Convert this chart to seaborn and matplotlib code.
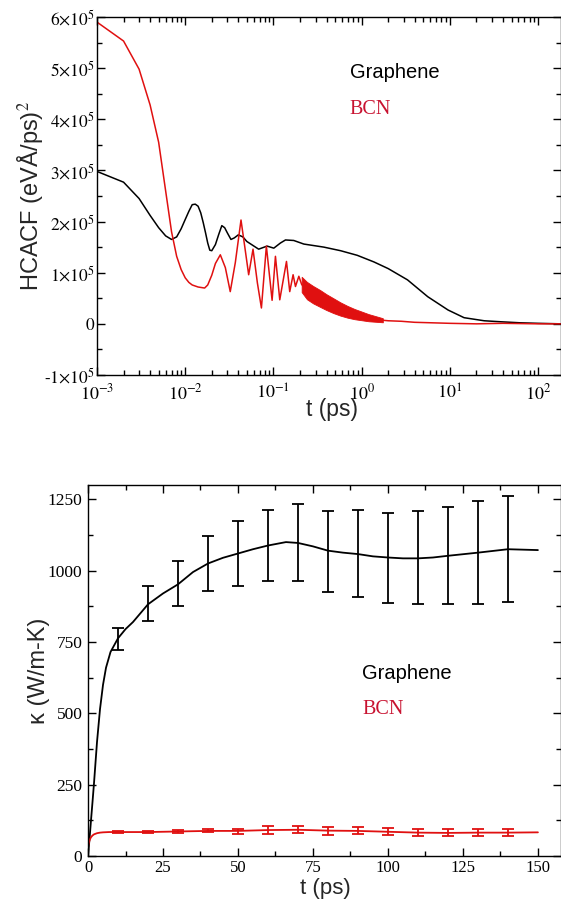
import numpy as np
import pandas as pd
import matplotlib
matplotlib.use("Agg")
import matplotlib.pyplot as plt
from matplotlib.ticker import LogLocator, MultipleLocator, NullFormatter
import seaborn as sns

# ---------------- data (top: HCACF, values in units of 1e5 (eVÅ/ps)^2) ----------------
gr_t_hc = [0.001, 0.002, 0.003, 0.004, 0.005, 0.006, 0.007, 0.008, 0.009, 0.010,
           0.011, 0.012, 0.013, 0.014, 0.015, 0.016, 0.017, 0.018, 0.019, 0.020,
           0.022, 0.024, 0.026, 0.028, 0.030, 0.033, 0.036, 0.040, 0.045, 0.050,
           0.068, 0.0847, 0.101, 0.120, 0.137, 0.170, 0.221, 0.287, 0.373, 0.577,
           0.891, 1.38, 2.0, 3.31, 5.62, 9.55, 14.5, 24.5, 38.0, 63.0, 100.0, 182.0]
gr_hcacf = [2.98, 2.77, 2.45, 2.12, 1.88, 1.72, 1.65, 1.70, 1.86, 2.04,
            2.20, 2.33, 2.34, 2.30, 2.17, 1.98, 1.78, 1.58, 1.44, 1.43,
            1.55, 1.75, 1.92, 1.88, 1.78, 1.65, 1.68, 1.74, 1.70, 1.61,
            1.46, 1.52, 1.48, 1.58, 1.64, 1.63, 1.56, 1.53, 1.50, 1.43,
            1.34, 1.21, 1.08, 0.86, 0.53, 0.27, 0.12, 0.06, 0.04, 0.02, 0.01, 0.0]

bcn_t_hc = [0.001, 0.002, 0.003, 0.004, 0.005, 0.006, 0.007, 0.008, 0.009, 0.010,
            0.011, 0.012, 0.014, 0.0166, 0.018, 0.020, 0.022, 0.025, 0.0285,
            0.0324, 0.037, 0.0429, 0.0474, 0.0524, 0.0587, 0.0658, 0.0731, 0.0832,
            0.0966, 0.1054, 0.118, 0.1406, 0.1531, 0.1671, 0.1778, 0.1941, 0.209,
            0.240, 0.282, 0.339, 0.398, 0.479, 0.575, 0.692, 0.832, 1.0, 1.20,
            1.445, 1.738, 2.0, 2.82, 3.98, 6.31, 10.0, 20.0, 40.0, 100.0, 182.0]
bcn_hcacf = [5.90, 5.53, 4.98, 4.28, 3.55, 2.60, 1.80, 1.32, 1.06, 0.90,
             0.81, 0.76, 0.72, 0.70, 0.76, 0.95, 1.18, 1.35, 1.10,
             0.63, 1.20, 2.03, 1.50, 0.96, 1.46, 0.80, 0.31, 1.52,
             0.46, 1.32, 0.47, 1.22, 0.63, 0.96, 0.73, 0.93, 0.77,
             0.65, 0.57, 0.50, 0.42, 0.35, 0.29, 0.23, 0.19, 0.15, 0.12,
             0.09, 0.07, 0.06, 0.05, 0.03, 0.02, 0.01, 0.0, 0.01, 0.0, 0.0]

# dense-noise envelope of the BCN HCACF
band_t = [0.209, 0.240, 0.282, 0.339, 0.398, 0.479, 0.575, 0.692, 0.832, 1.0,
          1.20, 1.445, 1.738]
band_hi = [0.92, 0.82, 0.74, 0.66, 0.58, 0.50, 0.42, 0.35, 0.29, 0.24, 0.19,
           0.15, 0.11]
band_lo = [0.62, 0.48, 0.40, 0.33, 0.27, 0.21, 0.16, 0.12, 0.09, 0.07, 0.05,
           0.04, 0.03]

# ---------------- data (bottom: kappa, W/m-K) ----------------
gr_t = [0, 0.5, 1, 1.5, 2, 3, 4, 5, 6, 7.5, 10, 12.5, 15, 20, 25, 30, 35, 40,
        45, 50, 55, 60, 66, 70, 75, 80, 85, 90, 95, 100, 105, 110, 115, 120,
        130, 140, 150]
gr_k = [0, 60, 126, 190, 256, 400, 515, 600, 660, 715, 763, 795, 820, 882,
        920, 952, 995, 1025, 1045, 1060, 1075, 1088, 1100, 1097, 1085, 1070,
        1063, 1058, 1050, 1046, 1043, 1043, 1046, 1052, 1063, 1075, 1072]
gr_bar_t = [10, 20, 30, 40, 50, 60, 70, 80, 90, 100, 110, 120, 130, 140]
gr_bar_k = [760, 885, 955, 1025, 1060, 1088, 1100, 1068, 1060, 1045, 1047,
            1054, 1063, 1075]
gr_bar_err = [39, 62, 78, 95, 113, 123, 135, 142, 151, 158, 163, 170, 180, 185]

bcn_t = [0, 0.3, 0.7, 1, 1.5, 2, 3, 4, 5, 7, 10, 20, 30, 40, 50, 60, 70, 80,
         90, 100, 110, 120, 130, 140, 150]
bcn_k = [33, 48, 60, 66, 72, 76, 80, 82, 83, 84, 84, 84, 86, 88, 88, 91, 92,
         89, 88, 85, 82, 81, 82, 82, 83]
bcn_bar_t = [10, 20, 30, 40, 50, 60, 70, 80, 90, 100, 110, 120, 130, 140]
bcn_bar_k = [83, 83, 86, 88, 86, 91, 92, 88, 88, 85, 81, 81, 82, 82]
bcn_bar_err = [3, 3, 4, 5, 10, 13, 12, 13, 12, 13, 12, 12, 13, 13]

# ---------------- tick labels ----------------
top_xticks = [1e-3, 1e-2, 1e-1, 1e0, 1e1, 1e2]
top_xlabels = [r'$10^{-3}$', r'$10^{-2}$', r'$10^{-1}$', r'$10^{0}$',
               r'$10^{1}$', r'$10^{2}$']
top_yticks = [-1e5, 0, 1e5, 2e5, 3e5, 4e5, 5e5, 6e5]
top_ylabels = [r'$\text{-}1{\times}10^{5}$', r'$0$', r'$1{\times}10^{5}$',
               r'$2{\times}10^{5}$', r'$3{\times}10^{5}$', r'$4{\times}10^{5}$',
               r'$5{\times}10^{5}$', r'$6{\times}10^{5}$']
bot_xticks = [0, 25, 50, 75, 100, 125, 150]
bot_xlabels = ['0', '25', '50', '75', '100', '125', '150']
bot_yticks = [0, 250, 500, 750, 1000, 1250]
bot_ylabels = ['0', '250', '500', '750', '1000', '1250']

RED = '#e01010'
RED_TXT = '#c81230'

sns.set_theme(style='ticks')
plt.rcParams.update({
    'font.family': ['Liberation Sans', 'DejaVu Sans'],
    'mathtext.fontset': 'stix',
    'mathtext.default': 'rm',
    'axes.linewidth': 1.0,
})

fig = plt.figure(figsize=(5.61, 8.99), dpi=100)
ax1 = fig.add_axes([0.1729, 0.5829, 0.8271, 0.3982])
ax2 = fig.add_axes([0.1569, 0.0478, 0.8431, 0.4127])

# ---------------- top panel ----------------
top_gr = pd.DataFrame({'t': gr_t_hc, 'v': np.array(gr_hcacf) * 1e5})
top_bcn = pd.DataFrame({'t': bcn_t_hc, 'v': np.array(bcn_hcacf) * 1e5})
ax1.set_xscale('log')
sns.lineplot(data=top_gr, x='t', y='v', ax=ax1, color='black', lw=1.1,
             estimator=None, sort=False)
ax1.fill_between(band_t, np.array(band_lo) * 1e5, np.array(band_hi) * 1e5,
                 color=RED, lw=0.6)
sns.lineplot(data=top_bcn, x='t', y='v', ax=ax1, color=RED, lw=1.1,
             estimator=None, sort=False)

ax1.set_xlim(1e-3, 10 ** 2.26)
ax1.set_ylim(-1e5, 6e5)
ax1.set_xticks(top_xticks)
ax1.set_xticklabels(top_xlabels, fontsize=13)
ax1.xaxis.set_minor_locator(LogLocator(base=10, subs=np.arange(2, 10)))
ax1.xaxis.set_minor_formatter(NullFormatter())
ax1.set_yticks(top_yticks)
ax1.set_yticklabels(top_ylabels, fontsize=12.5)
ax1.yaxis.set_minor_locator(MultipleLocator(5e4))
ax1.tick_params(which='both', direction='in', top=True, right=True,
                width=1.0, colors='black')
ax1.tick_params(which='major', length=6)
ax1.tick_params(which='minor', length=3.5)
ax1.tick_params(axis='y', pad=1.5)
ax1.tick_params(axis='x', pad=6)
ax1.set_xlabel('t (ps)', fontsize=16.5)
ax1.set_ylabel('HCACF (eVÅ/ps)$^2$', fontsize=17)
ax1.xaxis.set_label_coords(0.506, -0.065)
ax1.yaxis.set_label_coords(-0.112, 0.5)
ax1.text(0.545, 0.8436, 'Graphene', transform=ax1.transAxes, fontsize=14.5,
         color='black', va='center', ha='left')
ax1.text(0.543, 0.7402, 'BCN', transform=ax1.transAxes, fontsize=14.5,
         color=RED_TXT, va='center', ha='left', family='Liberation Serif')

# ---------------- bottom panel ----------------
bot_gr = pd.DataFrame({'t': gr_t, 'k': gr_k})
bot_bcn = pd.DataFrame({'t': bcn_t, 'k': bcn_k})
sns.lineplot(data=bot_gr, x='t', y='k', ax=ax2, color='black', lw=1.3,
             estimator=None, sort=False)
ax2.errorbar(gr_bar_t, gr_bar_k, yerr=gr_bar_err, fmt='none', ecolor='black',
             elinewidth=1.3, capsize=4.5, capthick=1.3)
sns.lineplot(data=bot_bcn, x='t', y='k', ax=ax2, color=RED, lw=1.3,
             estimator=None, sort=False)
ax2.errorbar(bcn_bar_t, bcn_bar_k, yerr=bcn_bar_err, fmt='none', ecolor=RED,
             elinewidth=1.3, capsize=4.5, capthick=1.3)

ax2.set_xlim(0, 157.7)
ax2.set_ylim(0, 1300)
ax2.set_xticks(bot_xticks)
ax2.set_xticklabels(bot_xlabels, fontsize=12, family='Liberation Serif')
ax2.xaxis.set_minor_locator(MultipleLocator(12.5))
ax2.set_yticks(bot_yticks)
ax2.set_yticklabels(bot_ylabels, fontsize=12.5, family='Liberation Serif')
ax2.yaxis.set_minor_locator(MultipleLocator(125))
ax2.tick_params(which='both', direction='in', top=True, right=True,
                width=1.0, colors='black')
ax2.tick_params(which='major', length=6)
ax2.tick_params(which='minor', length=3.5)
ax2.tick_params(axis='y', pad=4)
ax2.tick_params(axis='x', pad=3)
ax2.set_xlabel('t (ps)', fontsize=16)
ax2.set_ylabel('κ (W/m-K)', fontsize=17)
ax2.xaxis.set_label_coords(0.501, -0.058)
ax2.yaxis.set_label_coords(-0.08, 0.5)
ax2.text(0.579, 0.493, 'Graphene', transform=ax2.transAxes, fontsize=14.5,
         color='black', va='center', ha='left')
ax2.text(0.581, 0.396, 'BCN', transform=ax2.transAxes, fontsize=14.5,
         color=RED_TXT, va='center', ha='left', family='Liberation Serif')

for ax in (ax1, ax2):
    for s in ax.spines.values():
        s.set_color('black')
        s.set_linewidth(1.0)

fig.savefig('out.png', dpi=100, facecolor='white')
